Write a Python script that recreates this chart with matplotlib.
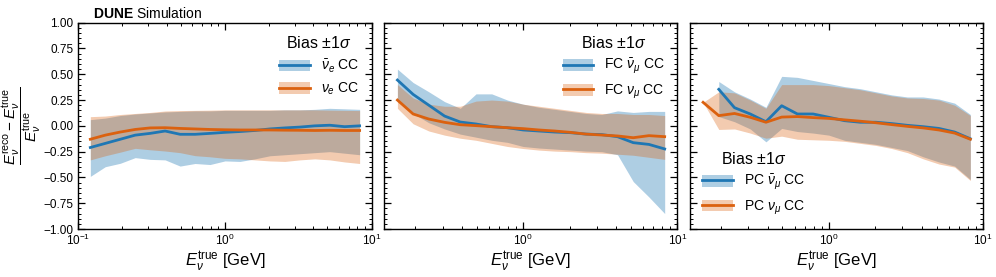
import matplotlib
matplotlib.use("Agg")
import matplotlib.pyplot as plt
from matplotlib.patches import Patch
from matplotlib.lines import Line2D
from matplotlib.ticker import MultipleLocator, FuncFormatter

# ---------------- data ----------------
energy = [0.1208, 0.1528, 0.1932, 0.2443, 0.3090, 0.3908, 0.4943, 0.6252, 0.7907,
          1.000, 1.265, 1.600, 2.023, 2.559, 3.236, 4.093, 5.176, 6.546, 8.279]

# Panel 1 (all 19 bins)
nuebar_mean = [-0.21, -0.17, -0.13, -0.09, -0.073, -0.05, -0.082, -0.082, -0.073, -0.063,
               -0.055, -0.045, -0.03, -0.02, -0.012, 0.0, 0.006, -0.008, 0.0]
nuebar_hi = [0.06, 0.075, 0.10, 0.115, 0.125, 0.135, 0.14, 0.145, 0.145, 0.15,
             0.15, 0.15, 0.15, 0.155, 0.155, 0.16, 0.17, 0.165, 0.16]
nuebar_lo = [-0.49, -0.396, -0.363, -0.308, -0.325, -0.33, -0.39, -0.365, -0.375, -0.34,
             -0.345, -0.32, -0.29, -0.28, -0.27, -0.26, -0.25, -0.265, -0.28]
nue_mean = [-0.13, -0.09, -0.06, -0.035, -0.02, -0.018, -0.025, -0.03, -0.035, -0.038,
            -0.04, -0.04, -0.04, -0.042, -0.043, -0.045, -0.043, -0.045, -0.045]
nue_hi = [0.089, 0.095, 0.11, 0.12, 0.13, 0.144, 0.148, 0.15, 0.152, 0.155,
          0.155, 0.155, 0.155, 0.155, 0.155, 0.155, 0.152, 0.15, 0.148]
nue_lo = [-0.33, -0.29, -0.255, -0.218, -0.232, -0.244, -0.26, -0.289, -0.30, -0.315,
          -0.32, -0.33, -0.34, -0.345, -0.33, -0.32, -0.33, -0.35, -0.365]

# Panel 2 (bins 2..19)
fc_numubar_mean = [0.444, 0.305, 0.20, 0.095, 0.037, 0.018, -0.008, -0.018, -0.04, -0.05,
                   -0.06, -0.066, -0.08, -0.085, -0.105, -0.163, -0.18, -0.224]
fc_numubar_hi = [0.55, 0.42, 0.33, 0.235, 0.17, 0.31, 0.31, 0.25, 0.21, 0.18,
                 0.16, 0.14, 0.12, 0.11, 0.145, 0.13, 0.14, 0.14]
fc_numubar_lo = [0.26, 0.12, 0.03, -0.03, -0.08, -0.11, -0.14, -0.16, -0.20, -0.215,
                 -0.225, -0.235, -0.245, -0.25, -0.28, -0.54, -0.69, -0.85]
fc_numu_mean = [0.25, 0.115, 0.066, 0.034, 0.011, 0.002, -0.008, -0.018, -0.027, -0.04,
                -0.05, -0.063, -0.08, -0.089, -0.098, -0.115, -0.095, -0.105]
fc_numu_hi = [0.40, 0.27, 0.21, 0.19, 0.19, 0.24, 0.25, 0.24, 0.21, 0.19,
              0.17, 0.15, 0.13, 0.12, 0.12, 0.11, 0.11, 0.10]
fc_numu_lo = [0.17, 0.02, -0.05, -0.09, -0.12, -0.14, -0.17, -0.20, -0.22, -0.235,
              -0.245, -0.25, -0.26, -0.265, -0.275, -0.285, -0.305, -0.325]

# Panel 3: PC numubar (bins 3..19), PC numu (bins 2..19)
pc_numubar_mean = [0.354, 0.176, 0.115, 0.04, 0.195, 0.115, 0.115, 0.083, 0.05, 0.035,
                   0.035, 0.022, 0.005, -0.008, -0.025, -0.06, -0.125]
pc_numubar_hi = [0.43, 0.33, 0.26, 0.18, 0.48, 0.47, 0.44, 0.41, 0.38, 0.36,
                 0.33, 0.30, 0.28, 0.28, 0.26, 0.22, 0.11]
pc_numubar_lo = [0.09, 0.04, -0.03, -0.155, -0.025, -0.055, -0.07, -0.09, -0.14, -0.16,
                 -0.18, -0.21, -0.24, -0.30, -0.35, -0.39, -0.52]
pc_numu_mean = [0.228, 0.099, 0.12, 0.083, 0.035, 0.085, 0.09, 0.08, 0.072, 0.058,
                0.045, 0.03, 0.012, -0.005, -0.02, -0.04, -0.07, -0.13]
pc_numu_hi = [0.228, 0.33, 0.32, 0.25, 0.17, 0.40, 0.40, 0.40, 0.39, 0.37,
              0.35, 0.32, 0.29, 0.27, 0.265, 0.25, 0.20, 0.10]
pc_numu_lo = [0.228, -0.035, -0.03, -0.07, -0.12, -0.10, -0.13, -0.135, -0.14, -0.15,
              -0.17, -0.19, -0.22, -0.26, -0.32, -0.37, -0.40, -0.53]

labels1 = [r"$\bar{\nu}_e$ CC", r"$\nu_e$ CC"]
labels2 = [r"FC $\bar{\nu}_\mu$ CC", r"FC $\nu_\mu$ CC"]
labels3 = [r"PC $\bar{\nu}_\mu$ CC", r"PC $\nu_\mu$ CC"]
legend_title = r"Bias $\pm1\sigma$"

# ---------------- style ----------------
BLUE = "#1f77b4"
ORANGE = "#db610f"
plt.rcParams.update({
    "font.family": ["Liberation Sans", "DejaVu Sans"],
    "mathtext.fontset": "custom",
    "mathtext.rm": "Liberation Sans",
    "mathtext.it": "Liberation Sans:italic",
    "mathtext.bf": "Liberation Sans:bold",
    "xtick.direction": "in", "ytick.direction": "in",
    "xtick.top": True, "ytick.right": True,
    "xtick.minor.visible": True, "ytick.minor.visible": True,
    "xtick.major.size": 5, "ytick.major.size": 5,
    "xtick.minor.size": 2.5, "ytick.minor.size": 2.5,
    "xtick.major.width": 0.9, "ytick.major.width": 0.9,
    "xtick.minor.width": 0.7, "ytick.minor.width": 0.7,
    "axes.linewidth": 1.0,
    "xtick.labelsize": 8.5, "ytick.labelsize": 8.5,
})

fig, axes = plt.subplots(1, 3, figsize=(9.96, 2.77), dpi=100, sharey=True)
fig.subplots_adjust(left=78.3 / 996, right=983 / 996, bottom=1 - 229 / 277,
                    top=1 - 22.7 / 277, wspace=0.042)


def draw(ax, series, labels, loc):
    for (x, mean, lo, hi, color, a) in series:
        ax.fill_between(x, lo, hi, color=color, alpha=a, lw=0)
    for (x, mean, lo, hi, color, a) in series:
        ax.plot(x, mean, color=color, lw=2)
    handles = [(Patch(facecolor=s[4], alpha=s[5], lw=0), Line2D([], [], color=s[4], lw=2))
               for s in series]
    ax.legend(handles, labels, title=legend_title, loc=loc, frameon=False,
              fontsize=10, title_fontsize=11.5, handlelength=2.2, handleheight=0.9,
              labelspacing=0.45)


A_B, A_O = 0.36, 0.33
draw(axes[0], [(energy, nuebar_mean, nuebar_lo, nuebar_hi, BLUE, A_B),
               (energy, nue_mean, nue_lo, nue_hi, ORANGE, A_O)], labels1, "upper right")
draw(axes[1], [(energy[1:], fc_numubar_mean, fc_numubar_lo, fc_numubar_hi, BLUE, A_B),
               (energy[1:], fc_numu_mean, fc_numu_lo, fc_numu_hi, ORANGE, A_O)], labels2, "upper right")
draw(axes[2], [(energy[2:], pc_numubar_mean, pc_numubar_lo, pc_numubar_hi, BLUE, A_B),
               (energy[1:], pc_numu_mean, pc_numu_lo, pc_numu_hi, ORANGE, A_O)], labels3, "lower left")

for i, ax in enumerate(axes):
    ax.set_xscale("log")
    ax.set_xlim(0.1 if i == 0 else 0.125, 10)
    ax.set_ylim(-1, 1)
    ax.yaxis.set_major_locator(MultipleLocator(0.25))
    ax.yaxis.set_minor_locator(MultipleLocator(0.05))
    ax.set_xlabel(r"$E_{\nu}^{\mathrm{true}}$ [GeV]", fontsize=12, labelpad=1)
    ax.tick_params(axis="x", which="major", pad=3)
    if i > 0:
        ax.tick_params(axis="y", which="both", labelleft=False)

axes[0].yaxis.set_major_formatter(FuncFormatter(lambda v, p: f"{v:.2f}".replace("-", "\u2212")))
axes[0].set_ylabel(r"$\dfrac{E_{\nu}^{\mathrm{reco}} - E_{\nu}^{\mathrm{true}}}{E_{\nu}^{\mathrm{true}}}$",
                   fontsize=11, labelpad=0)
axes[0].text(0.05, 1.008, r"$\mathbf{DUNE}$ Simulation", transform=axes[0].transAxes,
             ha="left", va="bottom", fontsize=10)

fig.savefig("out.png", dpi=100)
